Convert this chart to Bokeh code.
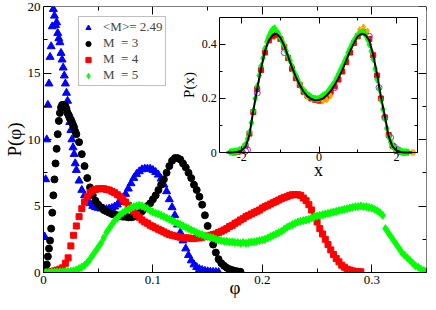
from bokeh.plotting import figure
from bokeh.models import (Range1d, LinearAxis, FixedTicker, CustomJSTickFormatter,
                          Legend, LegendItem)
from bokeh.embed import file_html
from bokeh.resources import INLINE

# ---------------- main panel data: P(phi) ----------------
phi_b = [0.000, 0.001, 0.002, 0.003, 0.004, 0.005, 0.006, 0.007, 0.008, 0.009,
         0.010, 0.011, 0.012, 0.013, 0.014, 0.015, 0.016, 0.017, 0.018, 0.019,
         0.020, 0.021, 0.022, 0.023, 0.024, 0.025, 0.026, 0.027, 0.028, 0.029,
         0.030, 0.0325, 0.035, 0.0375, 0.040, 0.0425, 0.045, 0.0475, 0.050, 0.0525,
         0.055, 0.0575, 0.060, 0.0625, 0.065, 0.0675, 0.070, 0.0725, 0.075, 0.0775,
         0.080, 0.0825, 0.085, 0.0875, 0.090, 0.0925, 0.095, 0.0975, 0.100, 0.1025,
         0.105, 0.1075, 0.110, 0.1125, 0.115, 0.1175, 0.120, 0.1225, 0.125, 0.1275,
         0.130, 0.1325, 0.135, 0.1375, 0.140, 0.1425, 0.145, 0.1475, 0.150, 0.1525,
         0.155, 0.1575, 0.160]
p_b = [0.0, 2.7, 7.0, 10.0, 12.6, 14.2, 16.2, 17.0, 18.5, 19.8,
       19.3, 18.6, 18.8, 18.0, 17.6, 17.3, 16.5, 16.0, 15.4, 14.8,
       14.2, 13.5, 12.9, 12.0, 11.3, 10.7, 10.0, 9.4, 8.9, 8.2,
       7.7, 6.9, 6.2, 5.8, 5.4, 5.2, 5.0, 4.9, 4.85, 4.8,
       4.8, 4.75, 4.8, 4.85, 4.95, 5.1, 5.3, 5.6, 5.9, 6.3,
       6.7, 7.1, 7.4, 7.6, 7.75, 7.8, 7.8, 7.8, 7.7, 7.55,
       7.35, 7.05, 6.6, 6.1, 5.5, 4.9, 4.3, 3.6, 3.0, 2.4,
       1.8, 1.3, 0.9, 0.6, 0.4, 0.25, 0.18, 0.12, 0.08, 0.06,
       0.04, 0.03, 0.02]

phi_k = [0.000, 0.001, 0.002, 0.003, 0.004, 0.005, 0.006, 0.007, 0.008, 0.009,
         0.010, 0.011, 0.012, 0.013, 0.014, 0.015, 0.016, 0.017, 0.018, 0.019,
         0.020, 0.021, 0.022, 0.023, 0.024, 0.025, 0.026, 0.027, 0.028, 0.029,
         0.030, 0.0325, 0.035, 0.0375, 0.040, 0.0425, 0.045, 0.0475, 0.050, 0.0525,
         0.055, 0.0575, 0.060, 0.0625, 0.065, 0.0675, 0.070, 0.0725, 0.075, 0.0775,
         0.080, 0.0825, 0.085, 0.0875, 0.090, 0.0925, 0.095, 0.0975, 0.100, 0.1025,
         0.105, 0.1075, 0.110, 0.1125, 0.115, 0.1175, 0.120, 0.1225, 0.125, 0.1275,
         0.130, 0.1325, 0.135, 0.1375, 0.140, 0.1425, 0.145, 0.1475, 0.150, 0.1525,
         0.155, 0.1575, 0.160, 0.1625, 0.165, 0.1675, 0.170, 0.1725, 0.175, 0.1775,
         0.180]
p_k = [0.0, 0.05, 0.2, 0.6, 1.2, 1.8, 2.4, 3.3, 4.5, 5.8,
       7.0, 8.2, 9.3, 10.4, 11.4, 12.0, 12.4, 12.6, 12.6, 12.6,
       12.5, 12.3, 12.0, 11.8, 11.6, 11.5, 11.3, 11.1, 10.9, 10.6,
       10.4, 9.8, 8.9, 8.0, 7.1, 6.4, 5.8, 5.4, 5.1, 4.9,
       4.7, 4.6, 4.5, 4.4, 4.35, 4.3, 4.25, 4.2, 4.2, 4.15,
       4.15, 4.2, 4.3, 4.45, 4.6, 4.8, 5.0, 5.2, 5.5, 5.8,
       6.2, 6.6, 7.0, 7.5, 8.0, 8.4, 8.6, 8.6, 8.5, 8.2,
       7.9, 7.5, 7.1, 6.6, 6.2, 5.7, 5.1, 4.3, 3.5, 2.7,
       2.1, 1.5, 1.0, 0.7, 0.5, 0.35, 0.25, 0.18, 0.12, 0.08,
       0.05]

phi_r = [0.000, 0.0025, 0.005, 0.0075, 0.010, 0.0125, 0.015, 0.0175, 0.020, 0.0225,
         0.025, 0.0275, 0.030, 0.0325, 0.035, 0.0375, 0.040, 0.0425, 0.045, 0.0475,
         0.050, 0.0525, 0.055, 0.0575, 0.060, 0.0625, 0.065, 0.0675, 0.070, 0.0725,
         0.075, 0.0775, 0.080, 0.0825, 0.085, 0.0875, 0.090, 0.0925, 0.095, 0.0975,
         0.100, 0.1025, 0.105, 0.1075, 0.110, 0.1125, 0.115, 0.1175, 0.120, 0.1225,
         0.125, 0.1275, 0.130, 0.1325, 0.135, 0.1375, 0.140, 0.1425, 0.145, 0.1475,
         0.150, 0.1525, 0.155, 0.1575, 0.160, 0.1625, 0.165, 0.1675, 0.170, 0.1725,
         0.175, 0.1775, 0.180, 0.1825, 0.185, 0.1875, 0.190, 0.1925, 0.195, 0.1975,
         0.200, 0.2025, 0.205, 0.2075, 0.210, 0.2125, 0.215, 0.2175, 0.220, 0.2225,
         0.225, 0.2275, 0.230, 0.2325, 0.235, 0.2375, 0.240, 0.2425, 0.245, 0.2475,
         0.250, 0.2525, 0.255, 0.2575, 0.260, 0.2625, 0.265, 0.2675, 0.270, 0.2725,
         0.275, 0.2775, 0.280, 0.2825, 0.285, 0.2875, 0.290]
p_r = [0.0, 0.02, 0.05, 0.08, 0.12, 0.18, 0.25, 0.35, 0.7, 1.1,
       2.0, 2.8, 3.5, 4.2, 4.8, 5.3, 5.7, 6.0, 6.15, 6.25,
       6.3, 6.3, 6.3, 6.25, 6.2, 6.1, 6.0, 5.85, 5.7, 5.5,
       5.3, 5.05, 4.8, 4.6, 4.35, 4.15, 3.95, 3.8, 3.7, 3.55,
       3.45, 3.35, 3.25, 3.15, 3.05, 2.95, 2.85, 2.8, 2.75, 2.7,
       2.65, 2.6, 2.6, 2.6, 2.55, 2.55, 2.6, 2.6, 2.65, 2.7,
       2.75, 2.8, 2.85, 2.9, 3.0, 3.1, 3.2, 3.3, 3.45, 3.55,
       3.7, 3.8, 3.95, 4.05, 4.2, 4.3, 4.4, 4.5, 4.6, 4.7,
       4.85, 4.95, 5.05, 5.15, 5.25, 5.35, 5.45, 5.55, 5.65, 5.7,
       5.8, 5.85, 5.85, 5.85, 5.8, 5.6, 5.4, 5.1, 4.7, 4.2,
       3.8, 3.3, 2.9, 2.5, 2.1, 1.7, 1.35, 1.05, 0.8, 0.55,
       0.4, 0.25, 0.18, 0.12, 0.08, 0.06, 0.05]

phi_g = [0.000, 0.0025, 0.005, 0.0075, 0.010, 0.0125, 0.015, 0.0175, 0.020, 0.0225,
         0.025, 0.0275, 0.030, 0.0325, 0.035, 0.0375, 0.040, 0.0425, 0.045, 0.0475,
         0.050, 0.0525, 0.055, 0.0575, 0.060, 0.0625, 0.065, 0.0675, 0.070, 0.0725,
         0.075, 0.0775, 0.080, 0.0825, 0.085, 0.0875, 0.090, 0.0925, 0.095, 0.0975,
         0.100, 0.1025, 0.105, 0.1075, 0.110, 0.1125, 0.115, 0.1175, 0.120, 0.1225,
         0.125, 0.1275, 0.130, 0.1325, 0.135, 0.1375, 0.140, 0.1425, 0.145, 0.1475,
         0.150, 0.1525, 0.155, 0.1575, 0.160, 0.1625, 0.165, 0.1675, 0.170, 0.1725,
         0.175, 0.1775, 0.180, 0.1825, 0.185, 0.1875, 0.190, 0.1925, 0.195, 0.1975,
         0.200, 0.2025, 0.205, 0.2075, 0.210, 0.2125, 0.215, 0.2175, 0.220, 0.2225,
         0.225, 0.2275, 0.230, 0.2325, 0.235, 0.2375, 0.240, 0.2425, 0.245, 0.2475,
         0.250, 0.2525, 0.255, 0.2575, 0.260, 0.2625, 0.265, 0.2675, 0.270, 0.2725,
         0.275, 0.2775, 0.280, 0.2825, 0.285, 0.2875, 0.290, 0.2925, 0.295, 0.2975,
         0.300, 0.3025, 0.305, 0.3075, 0.310, 0.3125, 0.315, 0.3175, 0.320, 0.3225,
         0.325, 0.3275, 0.330, 0.3325, 0.335, 0.3375, 0.340, 0.3425, 0.345, 0.3475,
         0.350]
p_g = [0.0, 0.0, 0.01, 0.02, 0.03, 0.04, 0.05, 0.06, 0.07, 0.08,
       0.1, 0.13, 0.2, 0.3, 0.4, 0.55, 0.75, 1.0, 1.3, 1.6,
       1.9, 2.2, 2.6, 3.0, 3.3, 3.6, 3.9, 4.1, 4.35, 4.5,
       4.65, 4.75, 4.85, 4.95, 5.0, 5.05, 5.0, 4.9, 4.8, 4.65,
       4.55, 4.45, 4.4, 4.3, 4.2, 4.1, 4.0, 3.9, 3.8, 3.7,
       3.6, 3.5, 3.4, 3.3, 3.2, 3.1, 3.0, 2.9, 2.85, 2.75,
       2.7, 2.65, 2.6, 2.5, 2.45, 2.4, 2.35, 2.35, 2.3, 2.3,
       2.25, 2.25, 2.2, 2.25, 2.2, 2.25, 2.3, 2.3, 2.35, 2.4,
       2.45, 2.5, 2.6, 2.7, 2.8, 2.9, 3.0, 3.1, 3.25, 3.4,
       3.5, 3.6, 3.7, 3.8, 3.85, 3.9, 3.95, 4.0, 4.1, 4.2,
       4.25, 4.3, 4.35, 4.4, 4.45, 4.5, 4.55, 4.6, 4.65, 4.7,
       4.75, 4.8, 4.85, 4.9, 4.95, 4.95, 5.0, 4.95, 4.95, 4.9,
       4.85, 4.75, 4.65, 4.5, 4.3, 3.3, 3.0, 2.7, 2.4, 2.1,
       1.8, 1.5, 1.3, 1.1, 0.9, 0.7, 0.5, 0.4, 0.25, 0.15,
       0.1]

legend_labels = ["<M>= 2.49", "M  = 3", "M  = 4", "M  = 5"]

x_ticks = [0, 0.1, 0.2, 0.3]
x_minor = [0.05, 0.15, 0.25, 0.35]
y_ticks = [0, 5, 10, 15, 20]
y_minor = [2.5, 7.5, 12.5, 17.5]

# ---------------- inset data: P(x) ----------------
ix_line = [-2.4, -2.3, -2.2, -2.1, -2.0, -1.9, -1.8, -1.7, -1.6, -1.5, -1.4, -1.3,
           -1.2, -1.1, -1.0, -0.9, -0.8, -0.7, -0.6, -0.5, -0.4, -0.3, -0.2, -0.1,
           0.0, 0.1, 0.2, 0.3, 0.4, 0.5, 0.6, 0.7, 0.8, 0.9, 1.0, 1.1, 1.2, 1.3,
           1.4, 1.5, 1.6, 1.7, 1.8, 1.9, 2.0, 2.1, 2.2, 2.3, 2.4]
iy_line = [0.0, 0.0, 0.001, 0.003, 0.008, 0.022, 0.065, 0.155, 0.235, 0.31, 0.375, 0.415,
           0.435, 0.44, 0.425, 0.395, 0.355, 0.315, 0.28, 0.25, 0.225, 0.208, 0.198, 0.193,
           0.195, 0.2, 0.212, 0.228, 0.25, 0.275, 0.305, 0.34, 0.375, 0.405, 0.43, 0.44,
           0.435, 0.415, 0.36, 0.29, 0.205, 0.135, 0.06, 0.022, 0.008, 0.002, 0.0, 0.0, 0.0]

ix_green = [-2.30, -2.25, -2.20, -2.15, -2.10, -2.05, -2.00, -1.95, -1.90, -1.85,
            -1.80, -1.75, -1.70, -1.65, -1.60, -1.55, -1.50, -1.45, -1.40, -1.35,
            -1.30, -1.25, -1.20, -1.15, -1.10, -1.05, -1.00, -0.95, -0.90, -0.85,
            -0.80, -0.75, -0.70, -0.65, -0.60, -0.55, -0.50, -0.45, -0.40, -0.35,
            -0.30, -0.25, -0.20, -0.15, -0.10, -0.05, 0.00, 0.05, 0.10, 0.15,
            0.20, 0.25, 0.30, 0.35, 0.40, 0.45, 0.50, 0.55, 0.60, 0.65,
            0.70, 0.75, 0.80, 0.85, 0.90, 0.95, 1.00, 1.05, 1.10, 1.15,
            1.20, 1.25, 1.30, 1.35, 1.40, 1.45, 1.50, 1.55, 1.60, 1.65,
            1.70, 1.75, 1.80, 1.85, 1.90, 1.95, 2.00, 2.05, 2.10, 2.15,
            2.20, 2.25, 2.30]
iy_green = [0.002, 0.003, 0.004, 0.005, 0.006, 0.01, 0.012, 0.02, 0.03, 0.05,
            0.075, 0.11, 0.155, 0.2, 0.245, 0.285, 0.32, 0.35, 0.385, 0.41,
            0.43, 0.445, 0.455, 0.46, 0.45, 0.44, 0.425, 0.41, 0.395, 0.375,
            0.355, 0.34, 0.32, 0.3, 0.285, 0.27, 0.255, 0.24, 0.23, 0.22,
            0.215, 0.21, 0.205, 0.2, 0.2, 0.198, 0.2, 0.205, 0.21, 0.215,
            0.22, 0.23, 0.24, 0.25, 0.26, 0.275, 0.29, 0.305, 0.32, 0.335,
            0.35, 0.37, 0.385, 0.4, 0.415, 0.425, 0.435, 0.44, 0.445, 0.445,
            0.435, 0.42, 0.4, 0.375, 0.345, 0.31, 0.27, 0.235, 0.195, 0.16,
            0.125, 0.09, 0.06, 0.04, 0.025, 0.015, 0.01, 0.006, 0.004, 0.003,
            0.002, 0.002, 0.001]

ix_red = [-2.2, -2.1, -2.0, -1.9, -1.8, -1.7, -1.6, -1.5, -1.4, -1.3, -1.2, -1.1,
          -1.0, -0.9, -0.8, -0.7, -0.6, -0.5, -0.4, -0.3, -0.2, -0.1, 0.0, 0.1,
          0.2, 0.3, 0.4, 0.5, 0.6, 0.7, 0.8, 0.9, 1.0, 1.1, 1.2, 1.3, 1.4, 1.5,
          1.6, 1.7, 1.8, 1.9, 2.0, 2.1, 2.2]
iy_red = [0.0, 0.003, 0.008, 0.025, 0.07, 0.15, 0.235, 0.305, 0.37, 0.415, 0.43, 0.435,
          0.42, 0.39, 0.35, 0.31, 0.275, 0.25, 0.225, 0.21, 0.2, 0.195, 0.192, 0.198,
          0.21, 0.225, 0.245, 0.27, 0.3, 0.335, 0.37, 0.405, 0.43, 0.445, 0.445, 0.42,
          0.36, 0.285, 0.2, 0.13, 0.065, 0.025, 0.008, 0.003, 0.0]

ix_orange = [-0.3, 0.1, 0.2, 0.3, 1.05, 1.15, 1.25, 2.2, 2.3, 2.4, 2.45]
iy_orange = [0.205, 0.19, 0.195, 0.21, 0.455, 0.465, 0.45, 0.001, 0.001, 0.0, 0.0]

ix_violet = [-1.9, -1.85, -1.6, -0.9, 0.4, 1.3, 1.55, 1.7, 1.85, 1.95, 2.05]
iy_violet = [0.005, 0.01, 0.22, 0.37, 0.24, 0.43, 0.24, 0.13, 0.055, 0.02, 0.01]

ix_ticks = [-2, 0, 2]
ix_minor = [-1, 1]
iy_ticks = [0, 0.2, 0.4]
iy_minor = [0.1, 0.3]
INSET_X = (-2.57, 2.54)
INSET_Y = (0.0, 0.5)
# inset box placement as fractions of the main frame (left, right, bottom, top)
INSET_FRAC = (0.460, 0.976, 0.451, 0.959)

FONT = "Liberation Serif"

# ---------------- figure ----------------
p = figure(width=428, height=302, output_backend="svg", toolbar_location=None,
           x_range=Range1d(0, 0.35), y_range=Range1d(0, 20),
           min_border_left=42, min_border_right=2, min_border_top=6, min_border_bottom=30)
p.outline_line_color = None
p.xgrid.visible = False
p.ygrid.visible = False

fmt = CustomJSTickFormatter(code="return String(tick)")
blank = CustomJSTickFormatter(code="return ''")


def style_axis(ax, tick_in=8, minor_in=4, size="13px"):
    ax.axis_line_color = "black"
    ax.axis_line_width = 1
    ax.major_tick_line_color = "black"
    ax.minor_tick_line_color = "black"
    ax.major_tick_in = tick_in
    ax.major_tick_out = 0
    ax.minor_tick_in = minor_in
    ax.minor_tick_out = 0
    ax.major_label_text_font = FONT
    ax.major_label_text_font_size = size
    ax.major_label_text_color = "black"
    ax.axis_label_text_font = FONT
    ax.axis_label_text_font_style = "normal"
    ax.axis_label_text_color = "black"


xa = p.xaxis[0]
style_axis(xa)
xa.ticker = FixedTicker(ticks=x_ticks, minor_ticks=x_minor)
xa.formatter = fmt
xa.axis_label = "φ"
xa.axis_label_text_font_size = "19px"
xa.axis_label_standoff = -10
xa.major_label_standoff = 3

ya = p.yaxis[0]
style_axis(ya)
ya.ticker = FixedTicker(ticks=y_ticks, minor_ticks=y_minor)
ya.formatter = fmt
ya.axis_label = "P(φ)"
ya.axis_label_text_font_size = "19px"
ya.axis_label_standoff = 0
ya.major_label_standoff = 3

ra = LinearAxis(fixed_location=0.35, ticker=FixedTicker(ticks=y_ticks, minor_ticks=y_minor),
                formatter=blank, major_label_standoff=0)
style_axis(ra)
p.add_layout(ra, "right")
ta = LinearAxis(fixed_location=20, ticker=FixedTicker(ticks=x_ticks, minor_ticks=x_minor),
                formatter=blank, major_label_standoff=0)
style_axis(ta)
p.add_layout(ta, "above")

rb = p.scatter(phi_b, p_b, marker="triangle", size=8, color="#0000ff")
rk = p.scatter(phi_k, p_k, marker="circle", size=7, color="black")
rr = p.scatter(phi_r, p_r, marker="square", size=6, color="#ff0000")
rg = p.scatter(phi_g, p_g, marker="diamond", size=8, color="#00ff00")

legend = Legend(items=[LegendItem(label=legend_labels[0], renderers=[rb]),
                       LegendItem(label=legend_labels[1], renderers=[rk]),
                       LegendItem(label=legend_labels[2], renderers=[rr]),
                       LegendItem(label=legend_labels[3], renderers=[rg])],
                location=(35, 186))
legend.border_line_color = "#808080"
legend.border_line_width = 1
legend.background_fill_color = "white"
legend.background_fill_alpha = 1
legend.padding = 2
legend.spacing = 0
legend.margin = 0
legend.label_height = 13
legend.glyph_height = 13
legend.glyph_width = 14
legend.label_standoff = 8
legend.label_text_font = FONT
legend.label_text_font_size = "13px"
p.add_layout(legend)

# ---------------- inset ----------------
f0, f1, g0, g1 = INSET_FRAC
ux = (INSET_X[1] - INSET_X[0]) / (f1 - f0)
uy = (INSET_Y[1] - INSET_Y[0]) / (g1 - g0)
p.extra_x_ranges = {"ix": Range1d(INSET_X[0] - f0 * ux, INSET_X[0] - f0 * ux + ux)}
p.extra_y_ranges = {"iy": Range1d(INSET_Y[0] - g0 * uy, INSET_Y[0] - g0 * uy + uy)}

p.quad(left=INSET_X[0], right=INSET_X[1], bottom=INSET_Y[0], top=INSET_Y[1],
       x_range_name="ix", y_range_name="iy", fill_color="white", line_color=None)

p.scatter(ix_red, iy_red, marker="square", size=5, color="#ff0000",
          x_range_name="ix", y_range_name="iy")
p.scatter(ix_orange, iy_orange, marker="diamond", size=6, color="#ffa500",
          x_range_name="ix", y_range_name="iy")
p.scatter(ix_violet, iy_violet, marker="circle", size=6, fill_color=None,
          line_color="#a020f0", x_range_name="ix", y_range_name="iy")
p.scatter(ix_green, iy_green, marker="diamond", size=7, color="#00ff00",
          x_range_name="ix", y_range_name="iy")
p.line(ix_line, iy_line, line_color="black", line_width=2,
       x_range_name="ix", y_range_name="iy")

il = LinearAxis(x_range_name="ix", y_range_name="iy", fixed_location=INSET_X[0],
                bounds=INSET_Y, ticker=FixedTicker(ticks=iy_ticks, minor_ticks=iy_minor),
                formatter=fmt, axis_label="P(x)")
style_axis(il, 6, 3, "12px")
il.axis_label_text_font_size = "15px"
il.axis_label_standoff = 2
il.major_label_standoff = 3
p.add_layout(il, "left")

ib = LinearAxis(x_range_name="ix", y_range_name="iy", fixed_location=INSET_Y[0],
                bounds=INSET_X, ticker=FixedTicker(ticks=ix_ticks, minor_ticks=ix_minor),
                formatter=fmt, axis_label="x")
style_axis(ib, 6, 3, "12px")
ib.axis_label_text_font_size = "18px"
ib.axis_label_standoff = -4
ib.major_label_standoff = 0
p.add_layout(ib, "below")

ir = LinearAxis(x_range_name="ix", y_range_name="iy", fixed_location=INSET_X[1],
                bounds=INSET_Y, ticker=FixedTicker(ticks=iy_ticks, minor_ticks=iy_minor),
                formatter=blank, major_label_standoff=0)
style_axis(ir, 6, 3)
p.add_layout(ir, "right")

it = LinearAxis(x_range_name="ix", y_range_name="iy", fixed_location=INSET_Y[1],
                bounds=INSET_X, ticker=FixedTicker(ticks=ix_ticks, minor_ticks=ix_minor),
                formatter=blank, major_label_standoff=0)
style_axis(it, 6, 3)
p.add_layout(it, "above")

open("out.html", "w").write(file_html(p, INLINE))
